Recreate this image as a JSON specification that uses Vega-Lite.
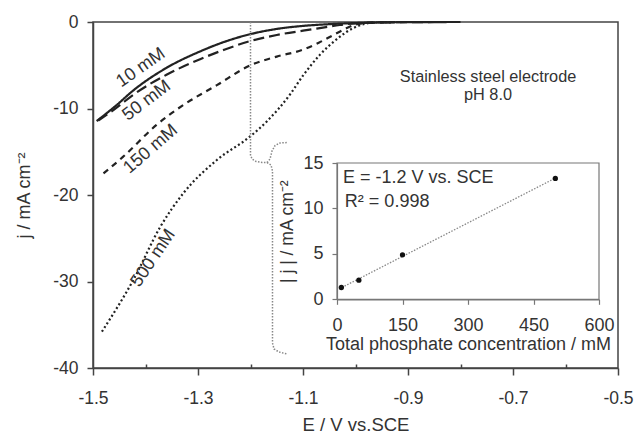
{
  "$schema": "https://vega.github.io/schema/vega-lite/v6.json",
  "autosize": "none",
  "width": 525,
  "height": 346,
  "padding": {"left": 93, "top": 22, "right": 17, "bottom": 66},
  "background": "white",
  "config": {
    "view": {"stroke": "#444", "strokeWidth": 1.5},
    "font": "Liberation Sans",
    "axis": {"domainColor": "#444", "tickColor": "#444", "labelColor": "#333", "titleColor": "#333", "labelFont": "Liberation Sans", "titleFont": "Liberation Sans", "labelFontSize": 17.5, "titleFontSize": 18, "titleFontWeight": "normal", "grid": false, "domainWidth": 1.5, "tickWidth": 1.5},
    "text": {"font": "Liberation Sans", "color": "#333", "fontSize": 18}
  },
  "datasets": {
    "curves": [
      {"c": "10 mM", "E": -1.493, "j": -11.45}, {"c": "10 mM", "E": -1.455, "j": -9.6}, {"c": "10 mM", "E": -1.423, "j": -7.9}, {"c": "10 mM", "E": -1.36, "j": -5.3}, {"c": "10 mM", "E": -1.296, "j": -3.4}, {"c": "10 mM", "E": -1.25, "j": -2.3}, {"c": "10 mM", "E": -1.2, "j": -1.4}, {"c": "10 mM", "E": -1.15, "j": -0.8}, {"c": "10 mM", "E": -1.1, "j": -0.45}, {"c": "10 mM", "E": -1.05, "j": -0.25}, {"c": "10 mM", "E": -1.0, "j": -0.12}, {"c": "10 mM", "E": -0.95, "j": -0.05}, {"c": "10 mM", "E": -0.9, "j": -0.02}, {"c": "10 mM", "E": -0.8, "j": 0},
      {"c": "50 mM", "E": -1.49, "j": -11.4}, {"c": "50 mM", "E": -1.455, "j": -9.9}, {"c": "50 mM", "E": -1.423, "j": -8.4}, {"c": "50 mM", "E": -1.36, "j": -6.1}, {"c": "50 mM", "E": -1.296, "j": -4.3}, {"c": "50 mM", "E": -1.25, "j": -3.2}, {"c": "50 mM", "E": -1.2, "j": -2.2}, {"c": "50 mM", "E": -1.15, "j": -1.5}, {"c": "50 mM", "E": -1.1, "j": -1.0}, {"c": "50 mM", "E": -1.068, "j": -0.7}, {"c": "50 mM", "E": -1.03, "j": -0.35}, {"c": "50 mM", "E": -1.0, "j": -0.15}, {"c": "50 mM", "E": -0.95, "j": -0.05}, {"c": "50 mM", "E": -0.85, "j": 0},
      {"c": "150 mM", "E": -1.48, "j": -17.5}, {"c": "150 mM", "E": -1.443, "j": -15.6}, {"c": "150 mM", "E": -1.379, "j": -11.9}, {"c": "150 mM", "E": -1.328, "j": -9.6}, {"c": "150 mM", "E": -1.264, "j": -7.3}, {"c": "150 mM", "E": -1.2, "j": -5.0}, {"c": "150 mM", "E": -1.15, "j": -4.0}, {"c": "150 mM", "E": -1.1, "j": -3.2}, {"c": "150 mM", "E": -1.07, "j": -2.4}, {"c": "150 mM", "E": -1.042, "j": -1.5}, {"c": "150 mM", "E": -1.02, "j": -0.8}, {"c": "150 mM", "E": -1.0, "j": -0.3}, {"c": "150 mM", "E": -0.97, "j": -0.08}, {"c": "150 mM", "E": -0.9, "j": 0},
      {"c": "500 mM", "E": -1.483, "j": -35.8}, {"c": "500 mM", "E": -1.423, "j": -29.8}, {"c": "500 mM", "E": -1.372, "j": -23.7}, {"c": "500 mM", "E": -1.328, "j": -19.8}, {"c": "500 mM", "E": -1.264, "j": -15.95}, {"c": "500 mM", "E": -1.2, "j": -13.2}, {"c": "500 mM", "E": -1.169, "j": -11.5}, {"c": "500 mM", "E": -1.125, "j": -8.4}, {"c": "500 mM", "E": -1.1, "j": -6.2}, {"c": "500 mM", "E": -1.068, "j": -3.8}, {"c": "500 mM", "E": -1.036, "j": -2.0}, {"c": "500 mM", "E": -1.004, "j": -0.7}, {"c": "500 mM", "E": -0.972, "j": -0.1}, {"c": "500 mM", "E": -0.93, "j": 0}
    ],
    "bracket": [
      {"seg": "a", "i": 0, "E": -1.2, "j": 0}, {"seg": "a", "i": 1, "E": -1.2, "j": -15.38}, {"seg": "a", "i": 2, "E": -1.1971, "j": -15.84}, {"seg": "a", "i": 3, "E": -1.1895, "j": -16.13}, {"seg": "a", "i": 4, "E": -1.1781, "j": -16.24}, {"seg": "a", "i": 5, "E": -1.1686, "j": -16.24}, {"seg": "a", "i": 6, "E": -1.1629, "j": -15.84}, {"seg": "a", "i": 7, "E": -1.159, "j": -14.91}, {"seg": "a", "i": 8, "E": -1.1533, "j": -14.28}, {"seg": "a", "i": 9, "E": -1.1438, "j": -13.99}, {"seg": "a", "i": 10, "E": -1.1286, "j": -13.93},
      {"seg": "b", "i": 0, "E": -1.1686, "j": -16.24}, {"seg": "b", "i": 1, "E": -1.161, "j": -16.53}, {"seg": "b", "i": 2, "E": -1.1581, "j": -17.23}, {"seg": "b", "i": 3, "E": -1.1581, "j": -37.11}, {"seg": "b", "i": 4, "E": -1.1552, "j": -37.8}, {"seg": "b", "i": 5, "E": -1.1457, "j": -38.15}, {"seg": "b", "i": 6, "E": -1.1305, "j": -38.38}
    ],
    "inset": [
      {"conc": 10, "jabs": 1.3}, {"conc": 50, "jabs": 2.1}, {"conc": 150, "jabs": 4.9}, {"conc": 500, "jabs": 13.3}
    ],
    "fit": [
      {"conc": 5, "jabs": 1.15}, {"conc": 505, "jabs": 13.46}
    ]
  },
  "layer": [
    {
      "layer": [
        {
          "data": {"name": "curves"},
          "mark": {"type": "line", "interpolate": "monotone", "strokeWidth": 2.2, "color": "#222"},
          "encoding": {
            "x": {"field": "E", "type": "quantitative", "scale": {"domain": [-1.5, -0.5], "nice": false, "zero": false},
              "axis": {"orient": "bottom", "title": "E / V vs.SCE", "values": [-1.5, -1.3, -1.1, -0.9, -0.7, -0.5], "labelExpr": "toString(datum.value)", "tickSize": 7, "labelPadding": 14, "titlePadding": 9, "titleFontSize": 18.5, "labelFlush": false}},
            "y": {"field": "j", "type": "quantitative", "scale": {"domain": [-40, 0], "nice": false, "zero": false},
              "axis": {"title": "j / mA cm⁻²", "values": [0, -10, -20, -30, -40], "labelExpr": "toString(datum.value)", "tickSize": 6, "labelPadding": 9, "titlePadding": 19, "labelFlush": false}},
            "strokeDash": {"field": "c", "type": "nominal", "scale": {"domain": ["10 mM", "50 mM", "150 mM", "500 mM"], "range": [[1, 0], [11, 5], [6, 5], [2, 2.5]]}, "legend": null}
          }
        },
        {
          "data": {"name": "bracket"},
          "mark": {"type": "line", "strokeWidth": 1.5, "color": "#888", "strokeDash": [1.5, 1.5]},
          "encoding": {
            "x": {"field": "E", "type": "quantitative", "axis": {"orient": "bottom", "values": [-1.4, -1.2, -1.0, -0.8, -0.6], "tickSize": -4, "labels": false, "domain": false, "title": null}},
            "y": {"field": "j", "type": "quantitative"},
            "detail": {"field": "seg"},
            "order": {"field": "i", "type": "quantitative"}
          }
        },
        {
          "data": {"values": [{"t": "10 mM", "E": -1.4086, "j": -5.3}]},
          "mark": {"type": "text", "angle": -35, "align": "center", "baseline": "middle"},
          "encoding": {"x": {"field": "E", "type": "quantitative", "axis": null}, "y": {"field": "j", "type": "quantitative"}, "text": {"field": "t"}}
        },
        {
          "data": {"values": [{"t": "50 mM", "E": -1.3977, "j": -9.1}]},
          "mark": {"type": "text", "angle": -37, "align": "center", "baseline": "middle"},
          "encoding": {"x": {"field": "E", "type": "quantitative", "axis": null}, "y": {"field": "j", "type": "quantitative"}, "text": {"field": "t"}}
        },
        {
          "data": {"values": [{"t": "150 mM", "E": -1.39, "j": -14.7}]},
          "mark": {"type": "text", "angle": -41, "align": "center", "baseline": "middle"},
          "encoding": {"x": {"field": "E", "type": "quantitative", "axis": null}, "y": {"field": "j", "type": "quantitative"}, "text": {"field": "t"}}
        },
        {
          "data": {"values": [{"t": "500 mM", "E": -1.385, "j": -27.3}]},
          "mark": {"type": "text", "angle": -56, "align": "center", "baseline": "middle"},
          "encoding": {"x": {"field": "E", "type": "quantitative", "axis": null}, "y": {"field": "j", "type": "quantitative"}, "text": {"field": "t"}}
        },
        {
          "data": {"values": [{"t": "Stainless steel electrode", "E": -0.7476, "j": -6.36}, {"t": "pH 8.0", "E": -0.7476, "j": -8.44}]},
          "mark": {"type": "text", "align": "center", "baseline": "middle", "fontSize": 16.3},
          "encoding": {"x": {"field": "E", "type": "quantitative", "axis": null}, "y": {"field": "j", "type": "quantitative"}, "text": {"field": "t"}}
        }
      ],
      "resolve": {"axis": {"x": "independent"}}
    },
    {
      "layer": [
        {
          "data": {"values": [{"c0": 0, "c1": 600, "j0": 0, "j1": 15}]},
          "mark": {"type": "rect", "fill": "transparent", "stroke": "#777", "strokeWidth": 1.2},
          "encoding": {
            "x": {"field": "c0", "type": "quantitative", "scale": {"domain": [0, 600], "range": [244, 506], "nice": false, "zero": false},
              "axis": {"orient": "bottom", "offset": -68.7, "title": "Total phosphate concentration / mM", "values": [0, 150, 300, 450, 600], "tickSize": 5, "labelPadding": 12.5, "titlePadding": 1, "labelFontSize": 18, "titleFontSize": 18, "domainColor": "#777", "tickColor": "#777", "domainWidth": 1.2, "tickWidth": 1.2, "labelFlush": false}},
            "x2": {"field": "c1"},
            "y": {"field": "j0", "type": "quantitative", "scale": {"domain": [0, 15], "range": [277.3, 141], "nice": false, "zero": false},
              "axis": {"orient": "left", "offset": -244, "title": "| j | / mA cm⁻²", "values": [0, 5, 10, 15], "tickSize": 5, "labelPadding": 9, "titlePadding": 6, "labelFontSize": 18, "titleFontSize": 17.5, "domainColor": "#777", "tickColor": "#777", "domainWidth": 1.2, "tickWidth": 1.2, "labelFlush": false}},
            "y2": {"field": "j1"}
          }
        },
        {
          "data": {"name": "fit"},
          "mark": {"type": "line", "color": "#888", "strokeWidth": 1.3, "strokeDash": [1.5, 1.5]},
          "encoding": {"x": {"field": "conc", "type": "quantitative"}, "y": {"field": "jabs", "type": "quantitative"}}
        },
        {
          "data": {"name": "inset"},
          "mark": {"type": "circle", "size": 28, "color": "#111", "opacity": 1},
          "encoding": {"x": {"field": "conc", "type": "quantitative"}, "y": {"field": "jabs", "type": "quantitative"}}
        },
        {
          "data": {"values": [{"t": "E = -1.2 V vs. SCE", "conc": 13.7, "jabs": 13.4}, {"t": "R² = 0.998", "conc": 18, "jabs": 10.7}]},
          "mark": {"type": "text", "align": "left", "baseline": "middle", "fontSize": 18},
          "encoding": {"x": {"field": "conc", "type": "quantitative"}, "y": {"field": "jabs", "type": "quantitative"}, "text": {"field": "t"}}
        }
      ]
    }
  ],
  "resolve": {"scale": {"x": "independent", "y": "independent"}, "axis": {"x": "independent", "y": "independent"}}
}
